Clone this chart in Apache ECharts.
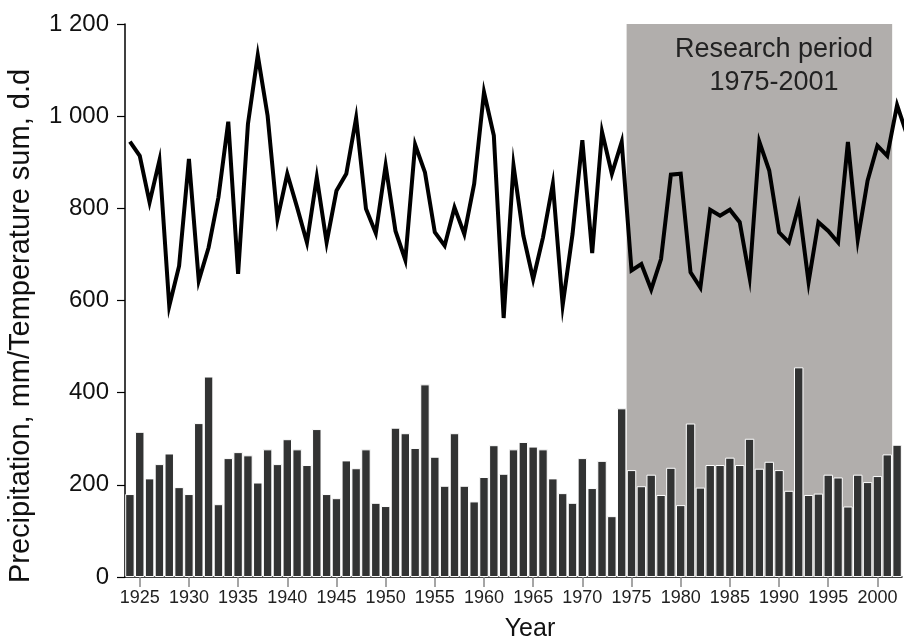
<!DOCTYPE html>
<html>
<head>
<meta charset="utf-8">
<script src="https://cdn.jsdelivr.net/npm/echarts@6/dist/echarts.min.js"></script>
<style>
html,body{margin:0;padding:0;background:#fff;}
#chart{width:904px;height:641px;}
</style>
</head>
<body>
<div id="chart"></div>
<script>
// Years shown as bars (category axis)
var years = [];
for (var y = 1924; y <= 2002; y++) years.push(String(y));

// Precipitation, mm (bars)
var precipitation = [
  180,315,214,245,268,195,180,334,435,158,
  258,271,264,205,277,245,299,277,243,321,
  180,171,253,236,277,161,154,324,312,280,
  418,261,198,312,198,164,217,286,224,277,
  293,283,277,214,182,161,258,193,252,132,
  366,232,197,222,178,237,156,333,194,243,
  243,259,243,300,235,250,232,187,455,178,
  181,222,216,153,222,206,219,266,287
];

// Temperature sum, d.d (line), years 1924..2003 (last one runs past the plot edge)
var lineYears = [];
for (var y2 = 1924; y2 <= 2003; y2++) lineYears.push(y2);
var temperatureSum = [
  945,914,813,904,588,675,907,643,715,824,
  988,658,983,1132,1001,777,875,802,726,867,
  726,838,875,996,799,746,893,751,688,938,
  878,748,719,802,744,853,1052,958,562,893,
  741,646,737,853,590,744,948,703,966,875,
  944,665,679,624,690,873,875,661,628,797,
  784,797,770,650,944,882,748,726,806,640,
  770,751,726,944,732,860,936,914,1024,960
];

// Tick labels
var yTickValues = [0,200,400,600,800,1000,1200];
var yTickLabels = ['0','200','400','600','800','1 000','1 200'];
var xTickLabels = ['1925','1930','1935','1940','1945','1950','1955','1960','1965','1970','1975','1980','1985','1990','1995','2000'];

// Research period
var periodStart = 1975, periodEnd = 2001;

var chart = echarts.init(document.getElementById('chart'), null, {renderer:'canvas'});
var FONT = '"Liberation Sans", Arial, Helvetica, sans-serif';

function showYear(idx, val) { return xTickLabels.indexOf(String(val)) >= 0; }

var lineData = lineYears.map(function (yr, i) { return [yr, temperatureSum[i]]; });

var option = {
  animation: false,
  backgroundColor: '#ffffff',
  grid: { left: 125, right: 2, top: 24, bottom: 64 },
  xAxis: [
    {
      type: 'category',
      data: years,
      boundaryGap: true,
      axisLine: { show: true, lineStyle: { color: '#000', width: 1.5 } },
      axisTick: { show: true, interval: showYear, alignWithLabel: true, length: 10, lineStyle: { color: '#888', width: 1.5 } },
      axisLabel: { interval: showYear, fontSize: 18, color: '#222', fontFamily: FONT, margin: 12 },
      splitLine: { show: false }
    },
    {
      type: 'value',
      min: 1923.5,
      max: 2002.5,
      show: false,
      splitLine: { show: false }
    }
  ],
  yAxis: {
    type: 'value',
    min: 0,
    max: 1200,
    interval: 200,
    axisLine: { show: true, lineStyle: { color: '#000', width: 1.5 } },
    axisTick: { show: true, length: 8, lineStyle: { color: '#000', width: 1.2 } },
    axisLabel: {
      fontSize: 24, color: '#111', fontFamily: FONT, margin: 16,
      formatter: function (v) { var i = yTickValues.indexOf(v); return i >= 0 ? yTickLabels[i] : ''; }
    },
    splitLine: { show: false }
  },
  series: [
    {
      type: 'line',
      xAxisIndex: 1,
      z: 0,
      data: [[periodStart - 0.5, 0], [periodEnd + 0.5, 0]],
      showSymbol: false,
      lineStyle: { opacity: 0 },
      silent: true,
      markArea: {
        silent: true,
        itemStyle: { color: '#b1aeac' },
        data: [[{ xAxis: periodStart - 0.5, yAxis: 0 }, { xAxis: periodEnd + 0.5, yAxis: 1200 }]]
      }
    },
    {
      type: 'bar',
      xAxisIndex: 0,
      data: precipitation,
      barCategoryGap: '4%',
      itemStyle: { color: '#323333', borderColor: '#ffffff', borderWidth: 1 },
      z: 2
    },
    {
      type: 'line',
      xAxisIndex: 1,
      data: lineData,
      clip: true,
      showSymbol: false,
      symbol: 'none',
      lineStyle: { color: '#000', width: 4, join: 'miter', miterLimit: 10 },
      z: 3
    }
  ],
  graphic: [
    {
      type: 'text',
      x: 774, y: 33,
      z: 100,
      style: {
        text: 'Research period\n1975-2001',
        fontSize: 27, fontFamily: FONT, fill: '#222',
        textAlign: 'center', textVerticalAlign: 'top', lineHeight: 33
      }
    },
    {
      type: 'text',
      x: 530, y: 629,
      z: 100,
      style: { text: 'Year', fontSize: 25, fontFamily: FONT, fill: '#111', textAlign: 'center', textVerticalAlign: 'middle' }
    },
    {
      type: 'text',
      x: 21, y: 326,
      z: 100,
      rotation: Math.PI / 2,
      style: { text: 'Precipitation, mm/Temperature sum, d.d', fontSize: 29, fontFamily: FONT, fill: '#111', textAlign: 'center', textVerticalAlign: 'middle' }
    }
  ]
};
chart.setOption(option);
</script>
</body>
</html>
